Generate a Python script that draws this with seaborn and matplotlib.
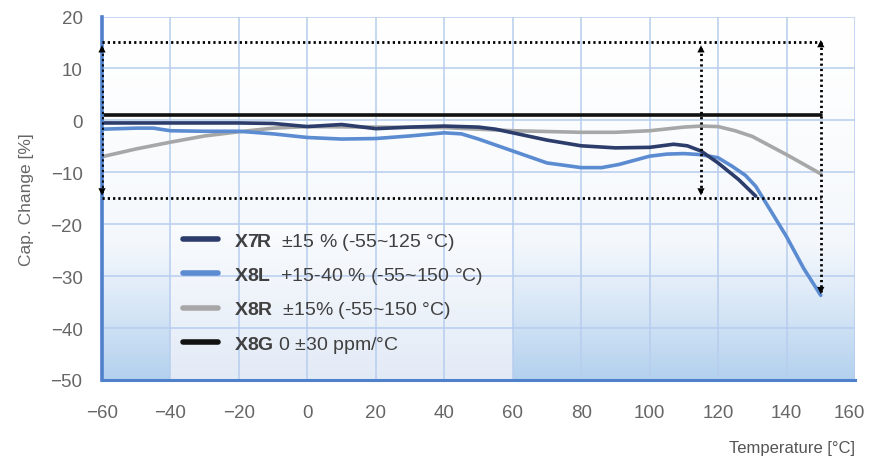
import matplotlib
matplotlib.use("Agg")
import matplotlib.pyplot as plt
import matplotlib.transforms as mtransforms
from matplotlib.colors import LinearSegmentedColormap
import seaborn as sns
import numpy as np

# Capacitance change vs temperature
temp_x7r = [-60, -40, -20, -10, 0, 5, 10, 15, 20, 30, 40, 50, 55, 60, 70, 80, 90, 100, 107, 111, 115, 120, 126, 131]
cap_x7r = [-0.5, -0.5, -0.5, -0.6, -1.2, -1.0, -0.8, -1.2, -1.6, -1.3, -1.1, -1.3, -1.7, -2.4, -3.8, -4.9, -5.3, -5.2, -4.6, -4.9, -5.9, -8.2, -11.4, -14.6]

temp_x8l = [-60, -50, -45, -40, -30, -20, -10, 0, 10, 20, 30, 40, 45, 50, 60, 70, 80, 86, 91, 100, 105, 110, 115, 120, 124, 128, 131, 135, 140, 145, 150]
cap_x8l = [-1.7, -1.5, -1.5, -2.0, -2.1, -2.1, -2.6, -3.3, -3.6, -3.5, -3.0, -2.4, -2.6, -3.6, -5.9, -8.2, -9.1, -9.1, -8.5, -6.9, -6.5, -6.4, -6.6, -7.2, -8.8, -10.6, -12.7, -17.0, -22.4, -28.5, -33.7]

temp_x8r = [-60, -50, -40, -30, -20, -10, 0, 20, 40, 60, 80, 90, 100, 110, 115, 120, 125, 130, 140, 150]
cap_x8r = [-7.0, -5.5, -4.2, -3.0, -2.2, -1.5, -1.2, -1.3, -1.4, -2.0, -2.3, -2.3, -2.0, -1.3, -1.1, -1.2, -2.0, -3.1, -6.6, -10.3]

temp_x8g = [-60, 150]
cap_x8g = [1.0, 1.0]

series_names = ["X7R", "X8L", "X8R", "X8G"]
series_desc = ["  ±15 % (-55~125 °C)", "  +15-40 % (-55~150 °C)", "  ±15% (-55~150 °C)", " 0 ±30 ppm/°C"]
series_colors = ["#2c3c6b", "#5b8bd0", "#a7a7a7", "#111111"]

# tolerance band and arrows
band_x = [-60, 150]
band_levels = [15, -15]
arrow_x = [-60, 115, 150]
arrow_top = [15, 15, 16]
arrow_bottom = [-15, -15, -34]

sns.set_theme(style="white")
plt.rcParams["font.family"] = ["Liberation Sans", "DejaVu Sans"]
plt.rcParams["mathtext.fontset"] = "custom"
plt.rcParams["mathtext.bf"] = "Liberation Sans:bold"
plt.rcParams["mathtext.rm"] = "Liberation Sans"

fig = plt.figure(figsize=(8.69, 4.6), dpi=100)
ax = fig.add_axes([102 / 869, 1 - 381 / 460, 753 / 869, 363.5 / 460])

# background gradients: white at the top, light blue at the bottom
bg_cmap = LinearSegmentedColormap.from_list("bg", ["#ffffff", "#f3f7fc", "#b3d1ee"])
grad = np.linspace(0, 1, 256) ** 1.5
ax.imshow(grad[:, None], extent=[-60, 160, -50, 20], cmap=bg_cmap, aspect="auto", zorder=0, origin="upper",
          vmin=0, vmax=1)
box_cmap = LinearSegmentedColormap.from_list("box", ["#fafcfe", "#e2eaf6"])
ax.imshow(np.linspace(0, 1, 256)[:, None], extent=[-40, 60, -50, -20], cmap=box_cmap, aspect="auto",
          zorder=0.1, origin="upper")

ax.set_xlim(-60, 160)
ax.set_ylim(-50, 20)
ax.set_xticks(range(-60, 161, 20))
ax.set_yticks(range(-50, 21, 10))
ax.grid(True, color="#b7cdee", lw=1.1)
ax.set_axisbelow(True)

series = [(temp_x7r, cap_x7r), (temp_x8l, cap_x8l), (temp_x8r, cap_x8r), (temp_x8g, cap_x8g)]
orders = [4, 3, 2, 5]
for (tx, cy), name, desc, col, z in zip(series, series_names, series_desc, series_colors, orders):
    sns.lineplot(x=tx, y=cy, color=col, lw=2.6, ax=ax, zorder=z,
                 label=r"$\mathbf{" + name + "}$" + desc)

# dotted tolerance lines
for lvl in band_levels:
    ax.plot(band_x, [lvl, lvl], color="black", lw=2, ls=(0, (0.8, 1.1)), zorder=6)
for xa, top, bot in zip(arrow_x, arrow_top, arrow_bottom):
    ax.plot([xa, xa], [top - 1, bot + 1], color="black", lw=2, ls=(0, (0.8, 1.1)), zorder=6)
    ax.annotate("", xy=(xa, top), xytext=(xa, top - 2.5),
                arrowprops=dict(arrowstyle="-|>", color="black", lw=0, mutation_scale=13), zorder=7)
    ax.annotate("", xy=(xa, bot), xytext=(xa, bot + 2.5),
                arrowprops=dict(arrowstyle="-|>", color="black", lw=0, mutation_scale=13), zorder=7)

for s in ["top", "right"]:
    ax.spines[s].set_visible(False)
ax.spines["left"].set_color("#4f80cc")
ax.spines["left"].set_linewidth(2.6)
ax.spines["bottom"].set_color("#4f80cc")
ax.spines["bottom"].set_linewidth(2.2)
ax.spines["left"].set_zorder(5)

ax.tick_params(axis="x", length=5, width=1, color="#b7cdee", pad=12, labelsize=13.5, labelcolor="#666666")
ax.tick_params(axis="y", length=6, width=1, color="#b7cdee", pad=8, labelsize=13.5, labelcolor="#666666")
# last x label sits against the right edge, nudge it inwards like the original
last = ax.get_xticklabels()[-1]
last.set_transform(last.get_transform() + mtransforms.ScaledTranslation(-6 / 100, 0, fig.dpi_scale_trans))

ax.set_xlabel("Temperature [°C]", loc="right", labelpad=14, fontsize=12, color="#555555")
ax.set_ylabel("Cap. Change [%]", fontsize=12.5, color="#666666", labelpad=12)

leg = ax.legend(loc="upper left", bbox_to_anchor=((183 - 102) / 753, (381 - 232) / 363.5), frameon=False,
                fontsize=14, handlelength=1.8, handletextpad=0.8, labelspacing=0.68,
                borderpad=0, borderaxespad=0)
for line in leg.get_lines():
    line.set_linewidth(4)
for t in leg.get_texts():
    t.set_color("#404040")

fig.savefig("out.png", dpi=100)
